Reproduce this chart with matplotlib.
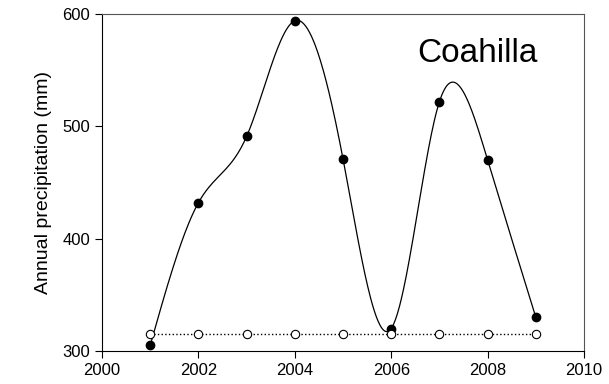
import numpy as np
import matplotlib
matplotlib.use("Agg")
import matplotlib.pyplot as plt

plt.rcParams['font.family'] = ['Liberation Sans', 'DejaVu Sans']

# dados
anos = [2001, 2002, 2003, 2004, 2005, 2006, 2007, 2008, 2009]
precipitacao = [305, 432, 491, 594, 471, 320, 522, 470, 330]
media = [315, 315, 315, 315, 315, 315, 315, 315, 315]
titulo = "Coahilla"


def spline_natural(x, y, xs):
    # spline cúbica natural (sem scipy)
    x = np.asarray(x, float)
    y = np.asarray(y, float)
    n = len(x)
    h = np.diff(x)
    A = np.zeros((n, n))
    b = np.zeros(n)
    A[0, 0] = 1
    A[-1, -1] = 1
    for i in range(1, n - 1):
        A[i, i - 1] = h[i - 1]
        A[i, i] = 2 * (h[i - 1] + h[i])
        A[i, i + 1] = h[i]
        b[i] = 3 * ((y[i + 1] - y[i]) / h[i] - (y[i] - y[i - 1]) / h[i - 1])
    c = np.linalg.solve(A, b)
    ys = np.empty_like(xs)
    for k, xv in enumerate(xs):
        i = min(max(np.searchsorted(x, xv) - 1, 0), n - 2)
        dx = xv - x[i]
        bi = (y[i + 1] - y[i]) / h[i] - h[i] * (2 * c[i] + c[i + 1]) / 3
        di = (c[i + 1] - c[i]) / (3 * h[i])
        ys[k] = y[i] + bi * dx + c[i] * dx ** 2 + di * dx ** 3
    return ys


fig = plt.figure(figsize=(6.09, 3.84), dpi=100)
ax = fig.add_axes([0.1675, 0.086, 0.7915, 0.8775])

xs = np.linspace(anos[0], anos[-1], 400)
ax.plot(xs, spline_natural(anos, precipitacao, xs), color='black', linewidth=0.9)
ax.plot(anos, precipitacao, 'o', color='black', markersize=6)
ax.plot(anos, media, ':', color='black', linewidth=1.0,
        marker='o', markerfacecolor='white', markeredgecolor='black',
        markersize=6, markeredgewidth=0.8)

ax.set_xlim(2000, 2010)
ax.set_ylim(300, 600)
ax.set_xticks([2000, 2002, 2004, 2006, 2008, 2010])
ax.set_yticks([300, 400, 500, 600])
ax.tick_params(direction='out', length=5, labelsize=12, width=0.8)
ax.set_ylabel('Annual precipitation (mm)', fontsize=14)
ax.yaxis.set_label_coords(-0.104, 0.5)

for lado in ['top', 'right']:
    ax.spines[lado].set_color('#555555')
for lado in ['left', 'bottom']:
    ax.spines[lado].set_color('black')

ax.text(2009.03, 565, titulo, fontsize=24, ha='right', va='center')

fig.savefig('out.png', dpi=100)
